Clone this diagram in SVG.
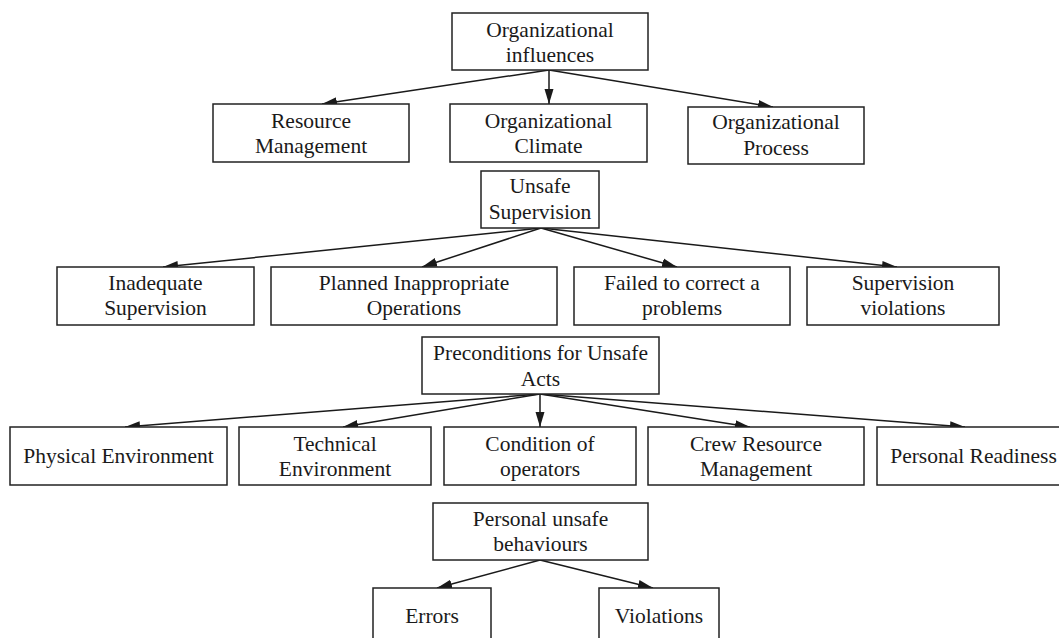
<svg xmlns="http://www.w3.org/2000/svg" width="1059" height="638" viewBox="0 0 1059 638">
<defs>
<style>
.box{fill:#fff;stroke:#222;stroke-width:1.5}
.t{font-family:"Liberation Serif","Times New Roman",serif;font-size:21.5px;fill:#1a1a1a;text-anchor:middle}
.c{stroke:#1a1a1a;stroke-width:1.5;fill:none;marker-end:url(#ah)}
</style>
<marker id="ah" markerUnits="userSpaceOnUse" markerWidth="16" markerHeight="12" viewBox="0 0 16 12" refX="15" refY="6" orient="auto">
<path d="M0,1.5 L15,6 L0,10.5 Z" fill="#1a1a1a"/>
</marker>
</defs>
<rect width="1059" height="638" fill="#fff"/>
<g id="connectors">
<line class="c" x1="549" y1="70" x2="322" y2="104"/>
<line class="c" x1="549" y1="70" x2="549" y2="104"/>
<line class="c" x1="549" y1="70" x2="773" y2="107"/>
<line class="c" x1="541" y1="228" x2="163" y2="267"/>
<line class="c" x1="541" y1="228" x2="422" y2="267"/>
<line class="c" x1="541" y1="228" x2="677" y2="267"/>
<line class="c" x1="541" y1="228" x2="897" y2="267"/>
<line class="c" x1="540" y1="394" x2="125" y2="427"/>
<line class="c" x1="540" y1="394" x2="343" y2="427"/>
<line class="c" x1="540" y1="394" x2="540" y2="427"/>
<line class="c" x1="540" y1="394" x2="750" y2="427"/>
<line class="c" x1="540" y1="394" x2="965" y2="427"/>
<line class="c" x1="540" y1="560" x2="437" y2="588"/>
<line class="c" x1="540" y1="560" x2="653" y2="588"/>
</g>
<g id="n-org-influences"><rect class="box" x="452" y="13" width="196" height="57"/><text class="t" x="550" y="37">Organizational</text><text class="t" x="550" y="62">influences</text></g>
<g id="n-resource-mgmt"><rect class="box" x="213" y="104" width="196" height="58"/><text class="t" x="311" y="128">Resource</text><text class="t" x="311" y="153">Management</text></g>
<g id="n-org-climate"><rect class="box" x="450" y="104" width="197" height="58"/><text class="t" x="548.5" y="128">Organizational</text><text class="t" x="548.5" y="153">Climate</text></g>
<g id="n-org-process"><rect class="box" x="688" y="107" width="176" height="57"/><text class="t" x="776" y="129">Organizational</text><text class="t" x="776" y="155">Process</text></g>
<g id="n-unsafe-supervision"><rect class="box" x="481" y="171" width="118" height="57"/><text class="t" x="540" y="193">Unsafe</text><text class="t" x="540" y="219">Supervision</text></g>
<g id="n-inadequate"><rect class="box" x="57" y="267" width="197" height="58"/><text class="t" x="155.5" y="290">Inadequate</text><text class="t" x="155.5" y="315">Supervision</text></g>
<g id="n-planned"><rect class="box" x="271" y="267" width="286" height="58"/><text class="t" x="414" y="290">Planned Inappropriate</text><text class="t" x="414" y="315">Operations</text></g>
<g id="n-failed"><rect class="box" x="574" y="267" width="216" height="58"/><text class="t" x="682" y="290">Failed to correct a</text><text class="t" x="682" y="315">problems</text></g>
<g id="n-sup-violations"><rect class="box" x="807" y="267" width="192" height="58"/><text class="t" x="903" y="290">Supervision</text><text class="t" x="903" y="315">violations</text></g>
<g id="n-preconditions"><rect class="box" x="422" y="337" width="237" height="57"/><text class="t" x="540.5" y="360">Preconditions for Unsafe</text><text class="t" x="540.5" y="386">Acts</text></g>
<g id="n-physical"><rect class="box" x="10" y="427" width="217" height="58"/><text class="t" x="118.5" y="463">Physical Environment</text></g>
<g id="n-technical"><rect class="box" x="239" y="427" width="192" height="58"/><text class="t" x="335" y="451">Technical</text><text class="t" x="335" y="476">Environment</text></g>
<g id="n-condition"><rect class="box" x="444" y="427" width="192" height="58"/><text class="t" x="540" y="451">Condition of</text><text class="t" x="540" y="476">operators</text></g>
<g id="n-crew"><rect class="box" x="648" y="427" width="216" height="58"/><text class="t" x="756" y="451">Crew Resource</text><text class="t" x="756" y="476">Management</text></g>
<g id="n-readiness"><rect class="box" x="877" y="427" width="200" height="58"/><text class="t" x="973.5" y="463">Personal Readiness</text></g>
<g id="n-personal-unsafe"><rect class="box" x="433" y="503" width="215" height="57"/><text class="t" x="540.5" y="526">Personal unsafe</text><text class="t" x="540.5" y="551">behaviours</text></g>
<g id="n-errors"><rect class="box" x="373" y="588" width="118" height="60"/><text class="t" x="432" y="623">Errors</text></g>
<g id="n-violations"><rect class="box" x="599" y="588" width="120" height="60"/><text class="t" x="659" y="623">Violations</text></g>
</svg>
